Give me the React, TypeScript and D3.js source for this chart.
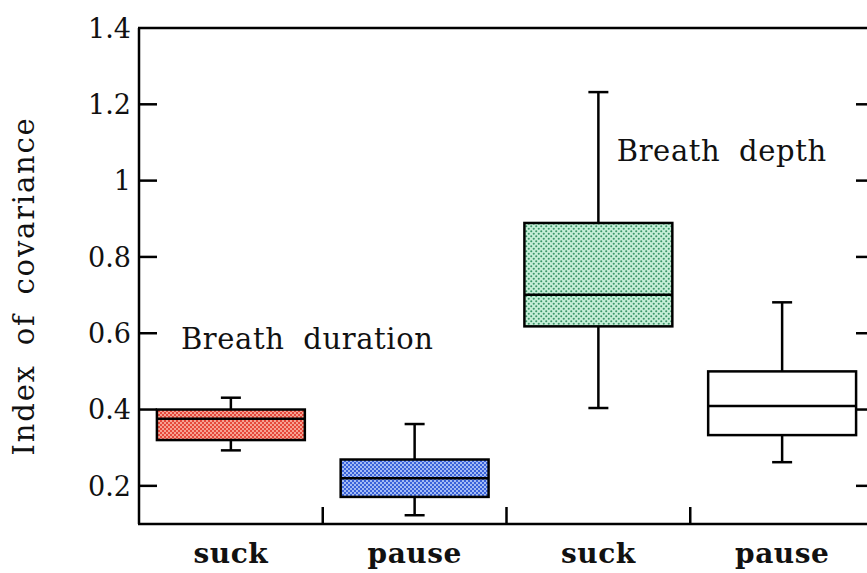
import React from "react";
import * as d3 from "d3";

const categories = ["suck", "pause", "suck", "pause"];
const whiskerLow = [0.293, 0.123, 0.404, 0.262];
const boxLow = [0.32, 0.171, 0.618, 0.333];
const medians = [0.376, 0.22, 0.701, 0.409];
const boxHigh = [0.4, 0.269, 0.889, 0.5];
const whiskerHigh = [0.431, 0.362, 1.232, 0.681];
const fills = ["url(#pRed)", "url(#pBlue)", "url(#pGreen)", "#ffffff"];
const yTicks = [0.2, 0.4, 0.6, 0.8, 1, 1.2, 1.4];
const yTickLabels = ["0.2", "0.4", "0.6", "0.8", "1", "1.2", "1.4"];
const annotations = [
  { text: "Breath duration", x: 0.228, y: 0.558 },
  { text: "Breath depth", x: 2.6, y: 1.052 },
];

const W = 867;
const H = 573;
const left = 139;
const right = 874;
const top = 28;
const bottom = 524;

export default function App() {
  const x = d3
    .scaleBand<number>()
    .domain(categories.map((_, i) => i))
    .range([left, right])
    .padding(0);
  const xc = d3.scaleLinear().domain([0, 4]).range([left, right]);
  const y = d3.scaleLinear().domain([0.1, 1.4]).range([bottom, top]);
  const bw = x.bandwidth() * 0.805;
  const cap = 20;
  const font = "'DejaVu Serif', 'Liberation Serif', serif";
  const sw = 2.5;

  return (
    <svg
      width={W}
      height={H}
      style={{ position: "absolute", left: 0, top: 0, background: "#fff" }}
    >
      <defs>
        <pattern id="pRed" patternUnits="userSpaceOnUse" width="4" height="4">
          <rect width="4" height="4" fill="#f6a292" />
          <rect x="0" y="0" width="2" height="2" fill="#e5483a" />
          <rect x="2" y="2" width="2" height="2" fill="#e5483a" />
        </pattern>
        <pattern id="pBlue" patternUnits="userSpaceOnUse" width="4" height="4">
          <rect width="4" height="4" fill="#a3bbf4" />
          <rect x="0" y="0" width="2" height="2" fill="#3a62d9" />
          <rect x="2" y="2" width="2" height="2" fill="#3a62d9" />
        </pattern>
        <pattern id="pGreen" patternUnits="userSpaceOnUse" width="5" height="5">
          <rect width="5" height="5" fill="#c6eed8" />
          <circle cx="1.25" cy="1.25" r="1.05" fill="#3a9468" />
          <circle cx="3.75" cy="3.75" r="1.05" fill="#3a9468" />
        </pattern>
      </defs>

      {/* frame */}
      <line x1={left} x2={left} y1={top} y2={bottom} stroke="#000" strokeWidth={sw} />
      <line x1={left - 1} x2={right} y1={bottom} y2={bottom} stroke="#000" strokeWidth={sw} />
      <line x1={left - 1} x2={right} y1={top} y2={top} stroke="#000" strokeWidth={sw} />
      <line x1={right} x2={right} y1={top} y2={bottom} stroke="#000" strokeWidth={sw} />

      {/* y ticks left and right */}
      {yTicks.map((t, i) => (
        <g key={"yt" + i}>
          {t < 1.4 && (
            <>
              <line x1={left} x2={left + 18} y1={y(t)} y2={y(t)} stroke="#000" strokeWidth={sw} />
              <line x1={right - 18} x2={right} y1={y(t)} y2={y(t)} stroke="#000" strokeWidth={sw} />
            </>
          )}
          <text
            x={left - 8}
            y={y(t)}
            dy="0.36em"
            textAnchor="end"
            fontFamily={font}
            fontSize={27}
            fill="#111"
          >
            {yTickLabels[i]}
          </text>
        </g>
      ))}

      {/* x separators */}
      {[1, 2, 3].map((k) => (
        <line
          key={"xs" + k}
          x1={xc(k)}
          x2={xc(k)}
          y1={bottom}
          y2={bottom - 17}
          stroke="#000"
          strokeWidth={sw}
        />
      ))}

      {/* boxes */}
      {categories.map((c, i) => {
        const cx = (x(i) as number) + x.bandwidth() / 2;
        return (
          <g key={"b" + i}>
            <line x1={cx} x2={cx} y1={y(whiskerHigh[i])} y2={y(boxHigh[i])} stroke="#000" strokeWidth={sw} />
            <line x1={cx} x2={cx} y1={y(boxLow[i])} y2={y(whiskerLow[i])} stroke="#000" strokeWidth={sw} />
            <line x1={cx - cap / 2} x2={cx + cap / 2} y1={y(whiskerHigh[i])} y2={y(whiskerHigh[i])} stroke="#000" strokeWidth={sw} />
            <line x1={cx - cap / 2} x2={cx + cap / 2} y1={y(whiskerLow[i])} y2={y(whiskerLow[i])} stroke="#000" strokeWidth={sw} />
            <rect
              x={cx - bw / 2}
              y={y(boxHigh[i])}
              width={bw}
              height={y(boxLow[i]) - y(boxHigh[i])}
              fill={fills[i]}
              stroke="#000"
              strokeWidth={sw}
            />
            <line x1={cx - bw / 2} x2={cx + bw / 2} y1={y(medians[i])} y2={y(medians[i])} stroke="#000" strokeWidth={sw} />
            <text
              x={cx}
              y={563}
              textAnchor="middle"
              fontFamily={font}
              fontWeight="bold"
              fontSize={28}
              letterSpacing={0.5}
              fill="#111"
            >
              {c}
            </text>
          </g>
        );
      })}

      {/* annotations */}
      {annotations.map((a, i) => (
        <text
          key={"a" + i}
          x={xc(a.x)}
          y={y(a.y)}
          fontFamily={font}
          fontSize={29}
          letterSpacing={0.6}
          wordSpacing={9}
          fill="#111"
        >
          {a.text}
        </text>
      ))}

      {/* y label */}
      <text
        transform={`translate(34,286) rotate(-90)`}
        textAnchor="middle"
        fontFamily={font}
        fontSize={29}
        letterSpacing={1.8}
        wordSpacing={8}
        fill="#111"
      >
        Index of covariance
      </text>
    </svg>
  );
}
